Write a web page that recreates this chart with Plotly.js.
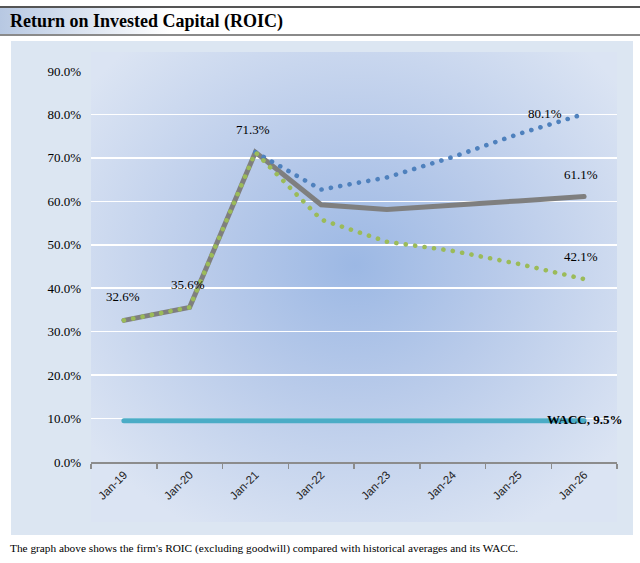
<!DOCTYPE html>
<html>
<head>
<meta charset="utf-8">
<script src="https://cdn.plot.ly/plotly-3.0.1.min.js"></script>
<style>
  body { margin: 0; background: #fff; }
  #wrap { position: relative; width: 640px; height: 563px; overflow: hidden; }
  #head { position: absolute; left: 0; top: 6px; width: 640px; height: 26px;
          border-top: 2px solid #555; border-bottom: 2px solid #8a8a8a;
          background: linear-gradient(to right, #b7c8e2 0px, #ffffff 170px); }
  #box { position: absolute; left: 11px; top: 41px; width: 622px; height: 494px; background: #dce6f2; }
  #inner { position: absolute; left: 91px; top: 52px; width: 526px; height: 470px;
           background: radial-gradient(ellipse 330px 300px at 264px 213px, #9cb8e4 0%, #b9cbea 45%, #dbe4f3 100%); }
  #graph { position: absolute; left: 0; top: 0; }
  #graph .js-line { stroke-linecap: round; }
</style>
</head>
<body>
<div id="wrap">
  <div id="head"></div>
  <div id="box"></div>
  <div id="inner"></div>
  <div id="graph"></div>
</div>
<script>
// values, in percent
var categories = ["Jan-19", "Jan-20", "Jan-21", "Jan-22", "Jan-23", "Jan-24", "Jan-25", "Jan-26"];
var roic = [32.6, 35.6, 71.3, 59.2, 58.1, 59.0, 60.1, 61.1];
var upper = [null, null, 71.3, 62.7, 65.5, 70.2, 75.5, 80.1];
var lower = [32.6, 35.6, 71.3, 55.8, 50.7, 48.6, 45.6, 42.1];
var wacc = [9.5, 9.5, 9.5, 9.5, 9.5, 9.5, 9.5, 9.5];
var yTicks = [0, 10, 20, 30, 40, 50, 60, 70, 80, 90];

var serif = "'Liberation Serif', 'Times New Roman', serif";

function pct(v){
    return v.toFixed(1) + "%";
}

var data = [];
data.push({ type: "scatter", mode: "lines", x: categories, y: wacc,
    line: {color: "#4bacc6", width: 5}, hoverinfo: "skip" });
data.push({ type: "scatter", mode: "lines", x: categories, y: roic,
    line: {color: "#7f7f7f", width: 5}, hoverinfo: "skip" });
// dotted lines: near-zero dashes + round caps give round dots
data.push({ type: "scatter", mode: "lines", x: categories, y: upper,
    line: {color: "#4f81bd", width: 4.6, dash: "0.1px,9.4px"}, hoverinfo: "skip" });
data.push({ type: "scatter", mode: "lines", x: categories, y: lower,
    line: {color: "#9bbb59", width: 4.6, dash: "0.1px,9.4px"}, hoverinfo: "skip" });

// data labels
var last = categories.length - 1;
var annotations = [];
function label(i, v, opts){
    var a = { x: categories[i], y: v, xref: "x", yref: "y", text: pct(v), showarrow: false,
        font: {family: serif, size: 13, color: "#000"} };
    for (var k in opts) a[k] = opts[k];
    annotations.push(a);
}
label(0, roic[0], {yshift: 24, xshift: -1});
label(1, roic[1], {yshift: 23, xshift: -2});
label(2, roic[2], {yshift: 23, xshift: -2});
label(last, upper[last], {xanchor: "right", xshift: -20, yshift: 1});
label(last, roic[last], {yshift: 22, xshift: -3});
label(last, lower[last], {yshift: 23, xshift: -3});
annotations.push({ x: categories[last], y: wacc[last], xref: "x", yref: "y", showarrow: false,
    text: "<b>WACC, " + pct(wacc[last]) + "</b>", xshift: 0, yshift: 1,
    font: {family: serif, size: 13, color: "#000"} });

// caption under the chart
annotations.push({ xref: "paper", yref: "paper", x: -0.158, y: -0.2225, xanchor: "left", yanchor: "middle",
    showarrow: false, align: "left",
    text: "The graph above shows the firm's ROIC (excluding goodwill) compared with historical averages and its WACC.",
    font: {family: serif, size: 11.3, color: "#000"} });

var layout = {
    width: 640, height: 563,
    margin: {l: 91, r: 23, t: 71, b: 101},
    paper_bgcolor: "rgba(0,0,0,0)",
    plot_bgcolor: "rgba(0,0,0,0)",
    showlegend: false,
    title: { text: "<b>Return on Invested Capital (ROIC)</b>", xref: "container", yref: "container",
        x: 10 / 640, xanchor: "left", y: 1 - 21 / 563, yanchor: "middle",
        font: {family: serif, size: 18, color: "#000"} },
    xaxis: {
        type: "category",
        range: [-0.5, 7.5],
        showline: true, linecolor: "#8c8c8c", linewidth: 1.5,
        ticks: "outside", tickson: "boundaries", ticklen: 5, tickcolor: "#8c8c8c", tickwidth: 1.5,
        showgrid: false,
        tickangle: -45,
        tickfont: {family: "'Liberation Sans', Arial, sans-serif", size: 11.5, color: "#222"}
    },
    yaxis: {
        range: [0, 90],
        tickvals: yTicks,
        ticktext: yTicks.map(pct),
        showgrid: true, gridcolor: "#ffffff", gridwidth: 1.5,
        zeroline: false, showline: false, ticks: "",
        ticklabelstandoff: 9,
        tickfont: {family: serif, size: 13, color: "#000"}
    },
    annotations: annotations
};

Plotly.newPlot("graph", data, layout, {displayModeBar: false, staticPlot: true});
</script>
</body>
</html>
